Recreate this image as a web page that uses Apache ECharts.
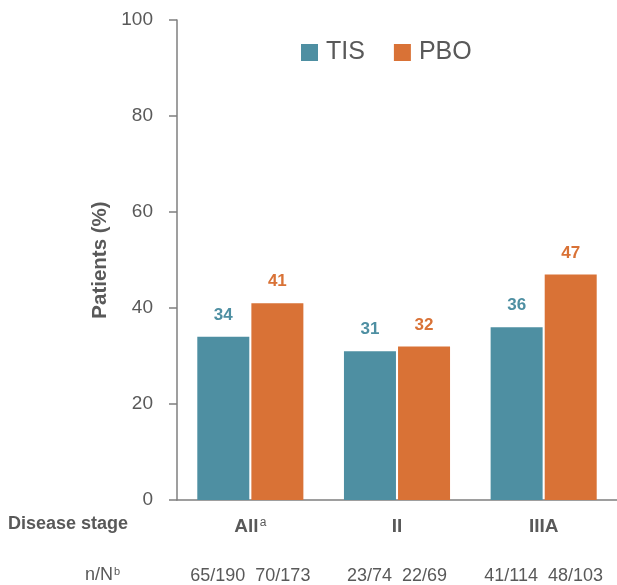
<!DOCTYPE html>
<html>
<head>
<meta charset="utf-8">
<script src="https://cdn.jsdelivr.net/npm/echarts@6/dist/echarts.min.js"></script>
<style>
html,body{margin:0;padding:0;background:#fff;}
#c{width:617px;height:585px;}
</style>
</head>
<body>
<div id="c"></div>
<script>
var categories = ['All', 'II', 'IIIA'];
var categorySup = ['a', '', ''];
var nTIS = ['65/190', '23/74', '41/114'];
var nPBO = ['70/173', '22/69', '48/103'];
var tisValues = [34, 31, 36];
var pboValues = [41, 32, 47];
var yTicks = [0, 20, 40, 60, 80, 100];

var FONT = '"Liberation Sans", Arial, sans-serif';
var GREY = '#595959';
var TIS_C = '#4E8FA2';
var PBO_C = '#D97236';

var chart = echarts.init(document.getElementById('c'), null, {renderer: 'canvas'});
chart.setOption({
  animation: false,
  textStyle: {fontFamily: FONT},
  grid: {left: 177, right: 0, top: 20, bottom: 85, containLabel: false},
  legend: {
    data: ['TIS', 'PBO'],
    left: 301, top: 40, padding: 0,
    icon: 'rect', itemWidth: 17, itemHeight: 17, itemGap: 29,
    textStyle: {fontFamily: FONT, fontSize: 25, color: GREY, padding: [0, 0, 0, 3], lineHeight: 25}
  },
  xAxis: {
    type: 'category',
    data: categories,
    axisLine: {show: true, lineStyle: {color: '#7f7f7f', width: 1.5}},
    axisTick: {show: false},
    axisLabel: {
      margin: 6,
      interval: 0,
      formatter: function (v, i) {
        var s = '{b|' + v + '}';
        if (categorySup[i]) s += '{sup|' + categorySup[i] + '}';
        return s + '\n{n|' + nTIS[i] + '  ' + nPBO[i] + '}';
      },
      rich: {
        b: {fontFamily: FONT, fontSize: 19, fontWeight: 'bold', color: GREY, lineHeight: 42},
        sup: {fontFamily: FONT, fontSize: 12, color: GREY, lineHeight: 13, padding: [0, 0, 9, 1]},
        n: {fontFamily: FONT, fontSize: 18, color: GREY, lineHeight: 56}
      }
    }
  },
  yAxis: {
    type: 'value',
    min: 0, max: 100, interval: 20,
    name: 'Patients (%)',
    nameLocation: 'middle',
    nameGap: 56,
    nameTextStyle: {fontFamily: FONT, fontSize: 20.5, fontWeight: 'bold', color: GREY},
    axisLine: {show: true, lineStyle: {color: '#7f7f7f', width: 1.5}},
    axisTick: {show: true, length: 8, inside: false, lineStyle: {color: '#7f7f7f', width: 1.5}},
    splitLine: {show: false},
    axisLabel: {margin: 24, fontFamily: FONT, fontSize: 19, color: GREY,
      formatter: function (v) { return yTicks.indexOf(v) >= 0 ? String(v) : ''; }}
  },
  series: [
    {
      name: 'TIS', type: 'bar', data: tisValues, barWidth: 52, barGap: '4%',
      itemStyle: {color: TIS_C},
      label: {show: true, position: 'top', distance: 13, fontFamily: FONT, fontSize: 17, fontWeight: 'bold', color: TIS_C}
    },
    {
      name: 'PBO', type: 'bar', data: pboValues, barWidth: 52,
      itemStyle: {color: PBO_C},
      label: {show: true, position: 'top', distance: 13, fontFamily: FONT, fontSize: 17, fontWeight: 'bold', color: PBO_C}
    }
  ],
  graphic: [
    {type: 'text', left: 8, top: 515, style: {text: 'Disease stage', fontFamily: FONT, fontSize: 18, fontWeight: 'bold', fill: GREY}},
    {type: 'text', left: 85, top: 566, style: {
      text: '{m|n/N}{s|b}', fill: GREY,
      rich: {
        m: {fontFamily: FONT, fontSize: 18, fill: GREY, lineHeight: 20},
        s: {fontFamily: FONT, fontSize: 11, fill: GREY, lineHeight: 11, padding: [0, 0, 8, 1]}
      }
    }}
  ]
});
</script>
</body>
</html>
